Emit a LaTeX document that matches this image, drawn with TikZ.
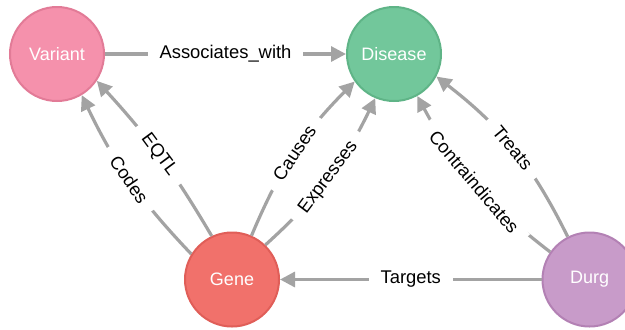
\documentclass[tikz,border=0pt]{standalone}
\usepackage{fontspec}
\setmainfont{Liberation Sans}
\usetikzlibrary{arrows.meta}
\definecolor{variantFill}{HTML}{F591AC}
\definecolor{variantLine}{HTML}{E27B97}
\definecolor{diseaseFill}{HTML}{72C79B}
\definecolor{diseaseLine}{HTML}{5FB487}
\definecolor{geneFill}{HTML}{F1716B}
\definecolor{geneLine}{HTML}{E05E58}
\definecolor{durgFill}{HTML}{C89BC9}
\definecolor{durgLine}{HTML}{B381B4}
\definecolor{edgeGray}{HTML}{A3A3A3}

\begin{document}
\begin{tikzpicture}[
    x=0.5pt, y=0.5pt,
    entity/.style={
        circle,
        minimum size=47pt,
        inner sep=0pt,
        line width=1pt,
        text=white,
        font=\fontsize{9}{11}\selectfont
    },
    rel/.style={-{Triangle[length=7.5pt,width=7.5pt]}, line width=1.6pt, draw=edgeGray},
    relLabel/.style={
        midway,
        sloped,
        fill=white,
        inner xsep=6pt,
        inner ysep=1pt,
        font=\fontsize{9.2}{11}\selectfont
    }
]

% Canvas
\clip (0,0) rectangle (625,329);

% Entity nodes
\node[entity, fill=variantFill, draw=variantLine] (variant) at (57,275)   {Variant};
\node[entity, fill=diseaseFill, draw=diseaseLine] (disease) at (394,275)  {Disease};
\node[entity, fill=geneFill, draw=geneLine]       (gene)    at (232,49.5) {Gene};
\node[entity, fill=durgFill, draw=durgLine]       (durg)    at (589.5,49.5) {Durg};

% Relations
\draw[rel] (variant) -- node[relLabel] {Associates\_with} (disease);
\draw[rel] (gene.148) to[bend left=9] node[relLabel] {Codes} (variant.-59);
\draw[rel] (gene.115) to[bend right=6] node[relLabel] {EQTL} (variant.-34);
\draw[rel] (gene.66) to[bend left=11] node[relLabel] {Causes} (disease.215);
\draw[rel] (gene.46) to[bend right=11] node[relLabel] {Expresses} (disease.247);
\draw[rel] (durg.145) to[bend left=12] node[relLabel] {Contraindicates} (disease.-61);
\draw[rel] (durg.117) to[bend right=13] node[relLabel] {Treats} (disease.-28);
\draw[rel] (durg) -- node[relLabel] {Targets} (gene);

\end{tikzpicture}
\end{document}
